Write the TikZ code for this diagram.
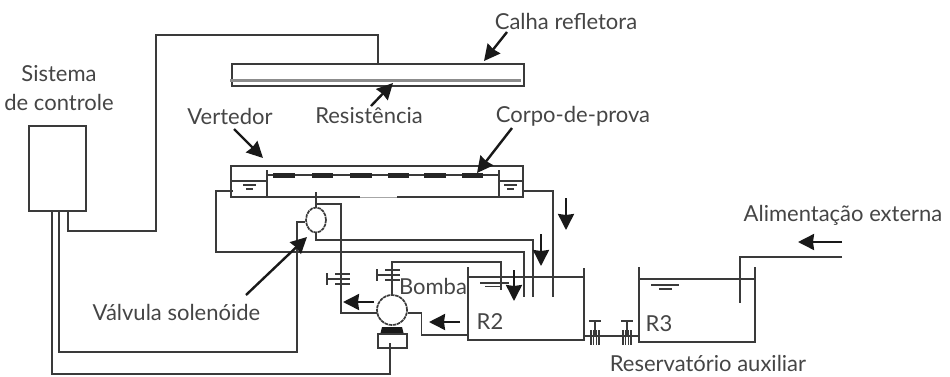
\documentclass[tikz,border=0pt]{standalone}
\usepackage{fontspec}
\setmainfont{Lato}
\usetikzlibrary{arrows.meta,shapes.geometric}
\definecolor{ink}{HTML}{3A3A3A}
\definecolor{txt}{HTML}{454545}
\tikzset{
  pipe/.style={draw=ink,line width=1.8pt},
  box/.style={draw=ink,line width=2pt,fill=none},
  flow/.style={draw=black!90,line width=2.4pt,-{Stealth[length=16pt,width=16pt,inset=1pt]}},
  lbl/.style={text=txt,font=\fontsize{22}{29}\selectfont,inner sep=0pt,outer sep=0pt,align=center},
  thin water/.style={draw=ink,line width=1.4pt},
  valvebar/.style={draw=ink,line width=1.5pt},
  spec/.style={draw=black!85,line width=5pt}
}
\begin{document}
\begin{tikzpicture}[x=1pt,y=-1pt]
\useasboundingbox (0,0) rectangle (950,376);
% coordinates
\coordinate (ctlTL) at (29,126); \coordinate (ctlBR) at (86,211);
\coordinate (c1) at (68,211); \coordinate (c2) at (59,211); \coordinate (c3) at (52,211);
\coordinate (calTL) at (232,64); \coordinate (calBR) at (524,86);
\coordinate (calTop) at (378,64);
\coordinate (verTL) at (231,166); \coordinate (verBR) at (523,197);
\coordinate (valve) at (316,220);
\coordinate (pump) at (392,310);
\coordinate (motorTL) at (378,334); \coordinate (motorBR) at (407,348);
% control box
\draw[box] (ctlTL) rectangle (ctlBR);
% heater trough
\draw[box] (calTL) rectangle (calBR);
\coordinate (resL) at (230,80); \coordinate (resR) at (521,80);
\draw[draw=black!45,line width=3pt] (resL) -- (resR);
\draw[pipe] (c1) |- (156,231) -- (156,35) -- (378,35) -- (calTop);
% spillway
\draw[box] (verTL) rectangle (verBR);
\draw[draw=white,line width=2.6pt] (360,197) -- (397,197);
\draw[draw=black!35,line width=.8pt] (360,197) -- (397,197);
\draw[pipe] (267,170) -- (267,197);
\draw[pipe] (499,170) -- (499,197);
\draw[pipe] (231,181) -- (267,181);
\draw[pipe] (499,181) -- (523,181);
\draw[thin water] (243,185) -- (256,185); \draw[thin water] (246,189) -- (253,189);
\draw[thin water] (504,185) -- (517,185); \draw[thin water] (507,189) -- (514,189);
\draw[pipe] (267,175) -- (499,175);
\foreach \a/\b in {273/295,312/333,350/372,388/409,424/446,462/483}
  \draw[spec] (\a,175.5) -- (\b,175.5);
% valve
\node[draw=ink,line width=1.7pt,dash pattern=on 3.5pt off 0.7pt,fill=white,ellipse,minimum width=20pt,minimum height=25pt,inner sep=0pt] (vnode) at (valve) {};
\draw[pipe] (316,192) -- (vnode.north);
\draw[pipe] (316,204) -| (341,313) -- (377,313);
\draw[pipe] (vnode.south) -- (316,240) -| (533,297);
\draw[pipe] (vnode.west) ++(0,2) -| (297,352) -| (c2);
\draw[pipe] (233,191) -| (216,252) -| (524,297);
\draw[pipe] (523,191) -| (553,297);
% pump
\node[draw=ink,line width=1.7pt,dash pattern=on 3.5pt off 0.7pt,fill=white,circle,minimum size=30pt,inner sep=0pt] (pnode) at (pump) {};
\fill[black!90] (382,327) -- (402,327) -- (404,335) -- (380,335) -- cycle;
\draw[box,fill=white] (motorTL) rectangle (motorBR);
\draw[pipe] (c3) -- (52,374) -- (390,374) -- (390,343);
\draw[pipe] (pnode.north) -- (392,262) -| (501,290);
\draw[pipe] (pnode.east) ++(0,3) -- (421.5,313) |- (468,335);
% valves on pump lines
\draw[valvebar] (377,269) -- (377,281); \draw[valvebar] (377,275) -- (392,275);
\foreach \y in {270,275,280} \draw[valvebar] (385,\y) -- (400,\y);
\draw[valvebar] (327,273) -- (327,285); \draw[valvebar] (327,279) -- (341,279);
\foreach \y in {274,279,284} \draw[valvebar] (335,\y) -- (350,\y);
% R2
\draw[pipe] (468,267) -- (468,340) -- (584,340) -- (584,268);
\draw[pipe] (468,277) -- (584,277);
\draw[thin water] (480,283) -- (509,283); \draw[thin water] (485,286.5) -- (502,286.5);
% R3
\draw[pipe] (639,267) -- (639,342) -- (755,342) -- (755,267);
\draw[pipe] (639,279) -- (755,279);
\draw[thin water] (651,285) -- (679,285); \draw[thin water] (659,289) -- (672,289);
\draw[pipe] (842,257) -| (740,303);
\draw[pipe] (584,336) -- (639,336);
\foreach \x in {595,627}{
  \draw[valvebar] (\x-6,321) -- (\x+6,321);
  \draw[valvebar] (\x,321) -- (\x,336);
  \foreach \d in {-4,-1.3,1.3,4} \draw[valvebar] (\x+\d,330) -- (\x+\d,345);
}
% labels
\node[lbl] (calha) at (566,21) {Calha refletora};
\node[lbl] (sist) at (59,88) {Sistema\\de controle};
\node[lbl] (vert) at (230,116) {Vertedor};
\node[lbl] (resi) at (369,116) {Resistência};
\node[lbl] (corpo) at (573,116) {Corpo-de-prova};
\node[lbl] (valv) at (176.5,312) {Válvula solenóide};
\node[lbl] (bomba) at (433,286) {Bomba};
\node[lbl] (r2) at (490,322) {R2};
\node[lbl] (r3) at (659,324) {R3};
\node[lbl] (res) at (708,363) {Reservatório auxiliar};
\node[lbl] (alim) at (843,215) {Alimentação externa};
% pointer arrows
\coordinate (a1) at (507,32); \coordinate (a2) at (484,61);
\draw[flow] (a1) -- (a2);
\coordinate (a3) at (371,106); \coordinate (a4) at (393,83);
\draw[flow] (a3) -- (a4);
\coordinate (a5) at (234,129); \coordinate (a6) at (263,158);
\draw[flow] (a5) -- (a6);
\coordinate (a7) at (512,128); \coordinate (a8) at (477,173);
\draw[flow] (a7) -- (a8);
\coordinate (a9) at (246,295); \coordinate (a10) at (307,237);
\draw[flow] (a9) -- (a10);
% flow arrows
\coordinate (f1) at (566,198); \coordinate (f2) at (566,230);
\draw[flow] (f1) -- (f2);
\coordinate (f3) at (541,234); \coordinate (f4) at (541,266);
\draw[flow] (f3) -- (f4);
\coordinate (f5) at (514,270); \coordinate (f6) at (514,301);
\draw[flow] (f5) -- (f6);
\coordinate (f7) at (374,302); \coordinate (f8) at (343,302);
\draw[flow] (f7) -- (f8);
\coordinate (f9) at (460,322); \coordinate (f10) at (429,322);
\draw[flow] (f9) -- (f10);
\coordinate (f11) at (842,242); \coordinate (f12) at (798,242);
\draw[flow] (f11) -- (f12);
\end{tikzpicture}
\end{document}
